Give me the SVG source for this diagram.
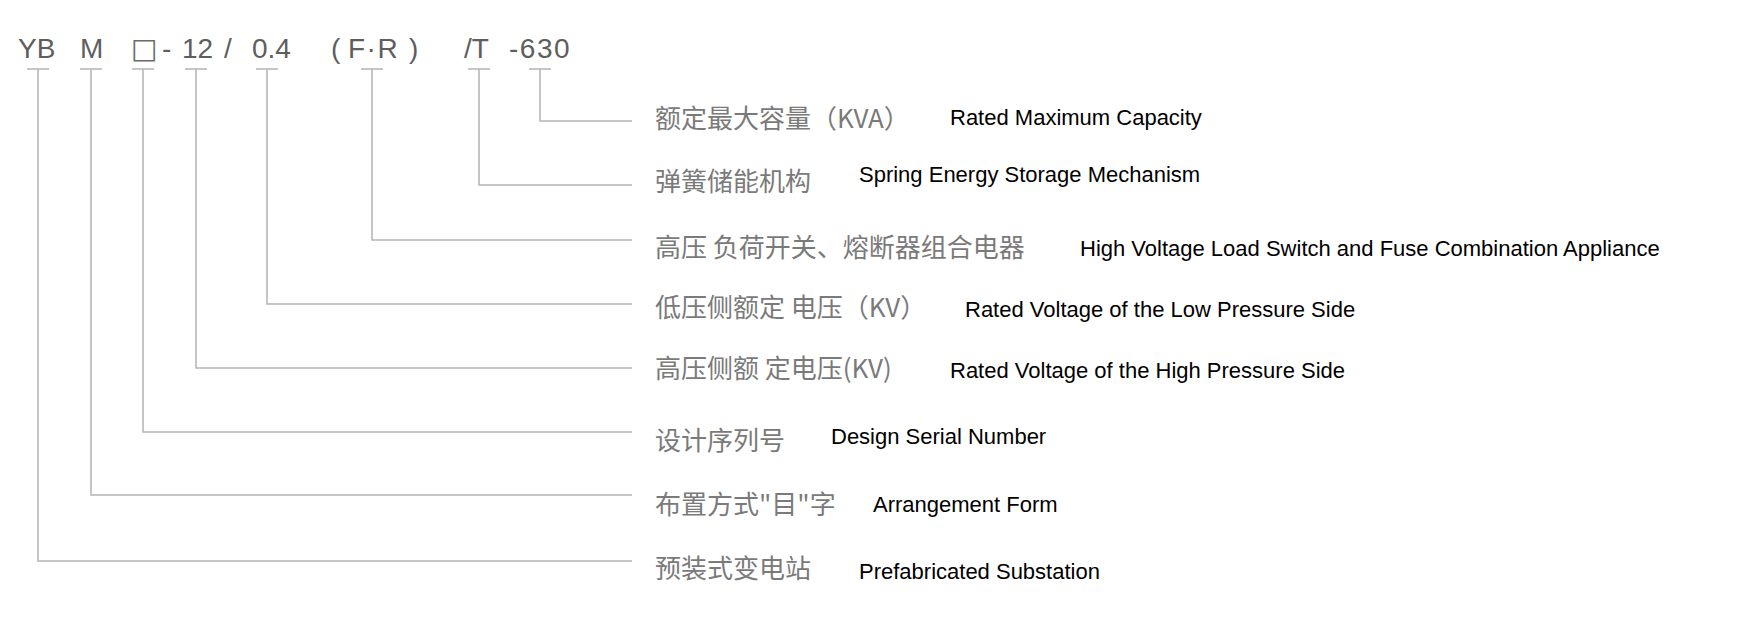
<svg xmlns="http://www.w3.org/2000/svg" width="1754" height="636" viewBox="0 0 1754 636">
<style>
.code{font-family:"Liberation Sans",Arial,sans-serif;font-size:28px;fill:#5e5e5e}
.sq{font-family:"DejaVu Sans",sans-serif;font-size:28px;fill:#6a6a6a}
.zh{font-family:"Noto Sans CJK SC","Noto Sans",sans-serif;font-size:26px;fill:#7a7a7a}
.en{font-family:"Liberation Sans",Arial,sans-serif;font-size:22px;fill:#000}
.ln{fill:none;stroke:#b4b4b4;stroke-width:1.5}
</style>
<rect width="1754" height="636" fill="#fff"/>
<g id="code">
<text class="code" x="18" y="58">YB</text>
<text class="code" x="80" y="58">M</text>
<text class="sq" x="131" y="58">□</text>
<text class="code" x="162" y="58">-</text>
<text class="code" x="182" y="58">12</text>
<text class="code" x="224" y="58">/</text>
<text class="code" x="252" y="58">0.4</text>
<text class="code" x="331" y="58">(</text>
<text class="code" x="348" y="58" letter-spacing="1.5">F·R</text>
<text class="code" x="409" y="58">)</text>
<text class="code" x="464" y="58">/T</text>
<text class="code" x="509" y="58" letter-spacing="1.5">-630</text>
</g>
<g id="connectors">
<path class="ln" d="M529 69H551M540 69V121H632"/>
<path class="ln" d="M468 69H490M479 69V185H632"/>
<path class="ln" d="M361 69H383M372 69V240H632"/>
<path class="ln" d="M256 69H278M267 69V304H632"/>
<path class="ln" d="M185 69H207M196 69V368H632"/>
<path class="ln" d="M132 69H154M143 69V432H632"/>
<path class="ln" d="M80 69H102M91 69V495H632"/>
<path class="ln" d="M27 69H49M38 69V561H632"/>
</g>
<g id="row-capacity">
<text class="zh" x="655" y="128">额定最大容量（KVA）</text>
<text class="en" x="950" y="124.5">Rated Maximum Capacity</text>
</g>
<g id="row-spring">
<text class="zh" x="655" y="191">弹簧储能机构</text>
<text class="en" x="859" y="181.5">Spring Energy Storage Mechanism</text>
</g>
<g id="row-switch">
<text class="zh" x="655" y="257">高压 负荷开关、熔断器组合电器</text>
<text class="en" x="1080" y="255.5">High Voltage Load Switch and Fuse Combination Appliance</text>
</g>
<g id="row-low">
<text class="zh" x="655" y="316.5">低压侧额定 电压（KV）</text>
<text class="en" x="965" y="317">Rated Voltage of the Low Pressure Side</text>
</g>
<g id="row-high">
<text class="zh" x="655" y="377.5">高压侧额 定电压(KV)</text>
<text class="en" x="950" y="378">Rated Voltage of the High Pressure Side</text>
</g>
<g id="row-serial">
<text class="zh" x="655" y="449.5">设计序列号</text>
<text class="en" x="831" y="444">Design Serial Number</text>
</g>
<g id="row-arrangement">
<text class="zh" x="655" y="513.5">布置方式"目"字</text>
<text class="en" x="873" y="512">Arrangement Form</text>
</g>
<g id="row-substation">
<text class="zh" x="655" y="577.5">预装式变电站</text>
<text class="en" x="859" y="579">Prefabricated Substation</text>
</g>
</svg>
